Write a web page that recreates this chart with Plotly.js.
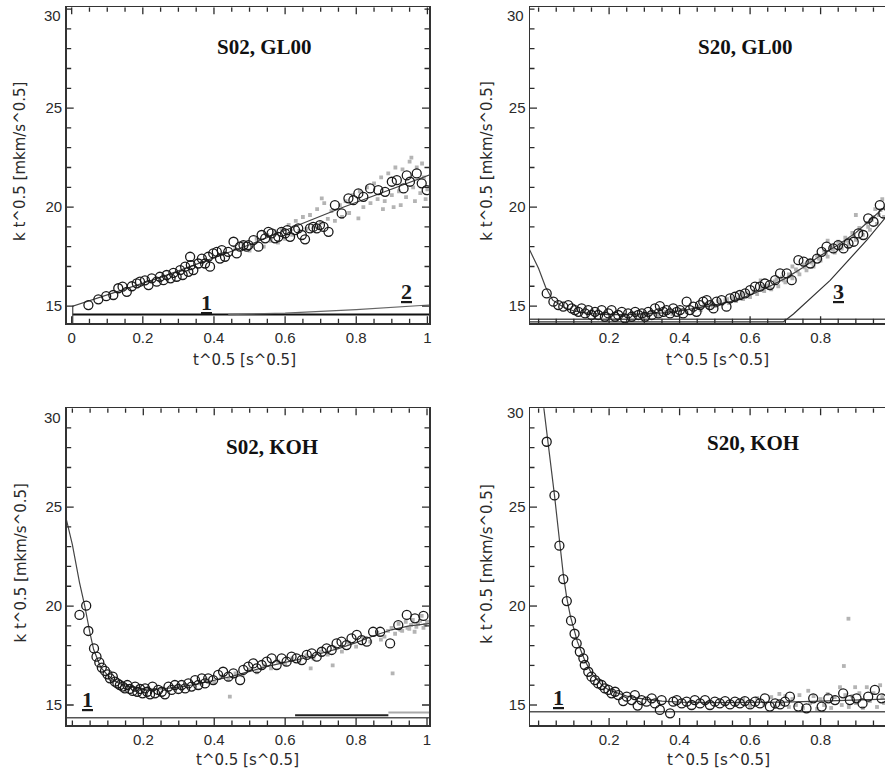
<!DOCTYPE html>
<html>
<head>
<meta charset="utf-8">
<script src="https://cdn.plot.ly/plotly-3.0.1.min.js"></script>
<style>html,body{margin:0;padding:0;background:#fff;}#chart{width:885px;height:775px;}</style>
</head>
<body>
<div id="chart"></div>
<script>
// ---------- DATA ----------
const panelTitles = ['S02, GL00', 'S20, GL00', 'S02, KOH', 'S20, KOH'];
const xTickPositions = [0,0.05,0.1,0.15,0.2,0.25,0.3,0.35,0.4,0.45,0.5,0.55,0.6,0.65,0.7,0.75,0.8,0.85,0.9,0.95,1];
const xTickText1 = ['0','','','','0.2','','','','0.4','','','','0.6','','','','0.8','','','','1'];
const xTickText2 = ['','','','','0.2','','','','0.4','','','','0.6','','','','0.8','','','',''];
const xTickText3 = ['','','','','0.2','','','','0.4','','','','0.6','','','','0.8','','','','1'];
const yTickPositions = [15,16,17,18,19,20,21,22,23,24,25,26,27,28,29,30];
const yTickText = ['15','','','','','20','','','','','25','','','','',''];
const xTitle = 't^0.5 [s^0.5]';
const yTitle = 'k t^0.5 [mkm/s^0.5]';

// Panel 1: S02, GL00
const s02gl00Circles = [[0.047,15.05],[0.075,15.34],[0.097,15.5],[0.117,15.56],[0.131,15.9],[0.143,15.98],[0.155,15.72],[0.169,16.0],[0.183,16.15],[0.192,16.23],[0.206,16.3],[0.216,16.06],[0.225,16.4],[0.239,16.23],[0.248,16.48],[0.258,16.31],[0.267,16.57],[0.278,16.4],[0.286,16.68],[0.295,16.48],[0.305,16.82],[0.312,16.57],[0.319,16.99],[0.328,16.73],[0.335,17.07],[0.342,16.82],[0.333,17.49],[0.356,17.15],[0.366,17.4],[0.375,17.15],[0.384,17.49],[0.389,16.99],[0.398,17.66],[0.408,17.74],[0.417,17.4],[0.422,17.83],[0.431,17.49],[0.44,17.74],[0.455,18.25],[0.464,17.66],[0.473,18.0],[0.483,18.08],[0.492,18.0],[0.497,18.08],[0.511,18.33],[0.525,18.0],[0.534,18.59],[0.544,18.42],[0.553,18.75],[0.562,18.67],[0.572,18.42],[0.581,18.5],[0.59,18.75],[0.6,18.67],[0.606,18.84],[0.614,18.5],[0.628,18.84],[0.637,18.92],[0.647,18.59],[0.656,18.37],[0.67,18.92],[0.679,19.0],[0.689,18.92],[0.698,19.09],[0.708,19.0],[0.722,18.75],[0.74,20.1],[0.759,19.68],[0.778,20.44],[0.792,20.35],[0.806,20.69],[0.82,20.52],[0.839,20.94],[0.862,20.86],[0.881,20.77],[0.9,21.28],[0.914,21.36],[0.933,20.94],[0.942,21.6],[0.951,21.28],[0.97,21.7],[0.984,21.2],[0.998,20.86]];
const s02gl00Dots = [[0.46,17.9],[0.48,18.2],[0.5,17.8],[0.52,18.4],[0.54,18.0],[0.55,18.6],[0.56,18.3],[0.57,18.8],[0.58,18.2],[0.59,18.9],[0.6,18.4],[0.61,19.1],[0.62,18.6],[0.63,19.3],[0.64,18.8],[0.65,19.5],[0.66,18.9],[0.67,19.6],[0.68,19.0],[0.69,19.9],[0.7,19.2],[0.703,20.44],[0.71,20.2],[0.72,19.4],[0.73,19.8],[0.74,19.3],[0.754,20.1],[0.76,19.5],[0.77,20.3],[0.78,19.7],[0.79,20.6],[0.806,19.43],[0.81,20.8],[0.82,20.0],[0.83,21.0],[0.84,20.2],[0.85,21.2],[0.86,20.4],[0.87,21.5],[0.875,19.9],[0.88,20.3],[0.89,21.7],[0.9,20.6],[0.905,20.0],[0.91,22.0],[0.92,20.8],[0.925,20.1],[0.93,21.9],[0.94,20.5],[0.95,22.3],[0.955,22.5],[0.96,21.0],[0.965,20.3],[0.97,22.0],[0.98,20.7],[0.985,22.2],[0.99,21.5],[0.995,20.4],[1.0,20.9]];
const s02gl00Fit = [[0.003,14.0],[0.003,15.0],[0.25,16.45],[0.5,18.1],[0.75,19.9],[1.01,21.65]];
const s02gl00Line1 = [[0.003,14.57],[1.01,14.57]];
const s02gl00Line2 = [[0.44,14.57],[0.6,14.64],[0.8,14.82],[1.01,15.06]];

// Panel 2: S20, GL00
const s20gl00Circles = [[0.023,15.64],[0.042,15.22],[0.056,15.05],[0.07,14.97],[0.084,15.05],[0.094,14.88],[0.103,14.8],[0.113,14.71],[0.122,14.88],[0.132,14.63],[0.141,14.8],[0.15,14.55],[0.16,14.71],[0.169,14.55],[0.179,14.8],[0.188,14.46],[0.198,14.63],[0.207,14.8],[0.217,14.46],[0.226,14.55],[0.236,14.71],[0.245,14.38],[0.254,14.63],[0.264,14.46],[0.274,14.71],[0.283,14.55],[0.293,14.63],[0.302,14.46],[0.311,14.71],[0.321,14.55],[0.33,14.88],[0.34,14.63],[0.344,15.0],[0.354,14.71],[0.363,14.8],[0.373,14.63],[0.382,14.88],[0.392,14.71],[0.401,14.8],[0.41,14.63],[0.42,15.22],[0.429,14.8],[0.439,14.97],[0.448,14.71],[0.458,15.05],[0.467,15.22],[0.477,15.3],[0.486,15.05],[0.496,14.88],[0.505,15.22],[0.519,15.3],[0.533,14.97],[0.543,15.39],[0.557,15.47],[0.571,15.56],[0.586,15.64],[0.6,15.81],[0.614,15.98],[0.628,15.98],[0.642,16.14],[0.656,16.06],[0.671,16.31],[0.685,16.65],[0.704,16.65],[0.718,16.31],[0.737,17.32],[0.752,17.24],[0.771,17.15],[0.79,17.4],[0.803,17.74],[0.817,18.0],[0.836,17.91],[0.85,18.08],[0.865,17.91],[0.879,18.16],[0.894,18.25],[0.907,18.67],[0.921,18.59],[0.935,19.43],[0.95,19.26],[0.968,20.1],[0.978,19.68]];
const s20gl00Dots = [[0.25,14.5],[0.27,14.65],[0.29,14.55],[0.30,14.5],[0.32,14.65],[0.34,14.55],[0.36,14.7],[0.38,14.6],[0.40,14.8],[0.42,14.7],[0.44,14.9],[0.455,14.95],[0.46,14.8],[0.47,15.05],[0.475,15.1],[0.48,14.95],[0.49,15.15],[0.495,15.0],[0.50,15.0],[0.51,15.25],[0.515,15.2],[0.52,15.1],[0.53,15.3],[0.535,15.35],[0.54,15.15],[0.55,15.4],[0.555,15.3],[0.56,15.25],[0.57,15.5],[0.575,15.6],[0.58,15.35],[0.59,15.65],[0.595,15.5],[0.60,15.45],[0.61,15.75],[0.615,15.7],[0.62,15.6],[0.63,15.9],[0.63,16.3],[0.635,16.0],[0.64,15.75],[0.65,16.05],[0.655,15.95],[0.66,15.85],[0.67,16.25],[0.675,16.35],[0.68,16.0],[0.69,16.45],[0.695,16.3],[0.70,16.2],[0.71,16.6],[0.715,16.5],[0.72,16.4],[0.72,17.0],[0.73,16.85],[0.735,16.75],[0.74,16.6],[0.75,17.1],[0.755,16.95],[0.76,16.8],[0.77,17.3],[0.775,17.2],[0.78,17.0],[0.79,17.55],[0.795,17.4],[0.80,17.3],[0.81,17.8],[0.815,17.65],[0.82,17.5],[0.82,18.3],[0.83,18.0],[0.835,17.85],[0.84,17.7],[0.85,18.25],[0.855,18.05],[0.86,17.9],[0.87,18.45],[0.875,18.3],[0.88,18.1],[0.89,18.7],[0.895,18.55],[0.90,18.35],[0.90,19.6],[0.91,18.95],[0.915,18.8],[0.92,18.6],[0.93,19.2],[0.935,19.0],[0.94,18.85],[0.945,19.35],[0.95,19.5],[0.955,19.9],[0.96,19.15],[0.965,19.6],[0.97,19.85],[0.975,20.4],[0.98,19.5],[0.985,19.9]];
const s20gl00Fit = [[-0.03,18.0],[0.0,16.9],[0.02,15.95],[0.04,15.3],[0.07,14.95],[0.1,14.75],[0.15,14.62],[0.2,14.57],[0.25,14.57],[0.3,14.6],[0.35,14.66],[0.4,14.76],[0.45,14.9],[0.5,15.05],[0.55,15.25],[0.6,15.55],[0.65,15.95],[0.7,16.4],[0.75,16.95],[0.8,17.55],[0.85,18.1],[0.9,18.7],[0.95,19.5],[0.99,20.15]];
const s20gl00Line1 = [[-0.03,14.33],[0.99,14.33]];
const s20gl00Line3 = [[-0.03,14.2],[0.694,14.2],[0.723,14.6],[0.827,16.3],[0.931,18.33],[0.99,19.6]];

// Panel 3: S02, KOH
const s02kohCircles = [[0.020,19.55],[0.039,20.02],[0.045,18.74],[0.061,17.86],[0.068,17.44],[0.076,17.15],[0.083,16.89],[0.092,16.72],[0.099,16.55],[0.106,16.35],[0.114,16.43],[0.12,16.18],[0.127,16.09],[0.134,16.01],[0.142,15.93],[0.148,15.84],[0.155,16.01],[0.162,15.81],[0.17,15.71],[0.177,15.93],[0.183,15.67],[0.191,15.81],[0.198,15.59],[0.205,15.84],[0.211,15.67],[0.219,15.54],[0.226,15.93],[0.233,15.59],[0.242,15.76],[0.252,15.67],[0.261,15.54],[0.271,15.93],[0.28,15.76],[0.289,16.01],[0.299,15.81],[0.308,16.01],[0.318,15.84],[0.327,16.09],[0.336,15.93],[0.346,16.26],[0.355,16.01],[0.365,16.35],[0.374,16.09],[0.383,16.35],[0.397,16.26],[0.411,16.52],[0.425,16.68],[0.44,16.43],[0.454,16.6],[0.473,16.26],[0.482,16.77],[0.496,16.94],[0.51,17.1],[0.52,16.85],[0.534,17.02],[0.548,17.19],[0.562,17.36],[0.576,17.02],[0.59,17.36],[0.604,17.19],[0.618,17.44],[0.632,17.36],[0.647,17.27],[0.661,17.53],[0.675,17.61],[0.689,17.44],[0.703,17.69],[0.717,17.86],[0.731,17.78],[0.745,18.11],[0.759,18.2],[0.773,18.03],[0.787,18.37],[0.802,18.54],[0.816,18.28],[0.83,18.2],[0.848,18.7],[0.868,18.7],[0.896,18.11],[0.919,19.04],[0.943,19.55],[0.966,19.38],[0.99,19.5]];
const s02kohDots = [[0.36,16.1],[0.38,16.3],[0.40,16.15],[0.42,16.45],[0.44,16.3],[0.444,15.42],[0.46,16.6],[0.48,16.5],[0.50,16.8],[0.52,16.65],[0.54,17.0],[0.56,16.85],[0.58,17.2],[0.60,17.05],[0.62,17.35],[0.64,17.2],[0.66,17.5],[0.672,16.85],[0.68,17.35],[0.70,17.7],[0.72,17.55],[0.734,17.0],[0.74,17.9],[0.76,17.7],[0.78,18.15],[0.80,17.95],[0.82,18.4],[0.84,18.2],[0.86,18.65],[0.87,18.3],[0.88,18.45],[0.89,18.75],[0.90,18.9],[0.903,16.6],[0.91,18.6],[0.92,19.1],[0.925,18.8],[0.93,18.75],[0.94,19.2],[0.945,18.9],[0.95,18.85],[0.955,19.05],[0.96,19.3],[0.965,18.7],[0.97,18.95],[0.975,19.1],[0.98,19.25],[0.985,19.5],[0.99,18.9],[0.995,19.05],[1.0,19.2]];
const s02kohFit = [[-0.02,24.6],[0.0,23.1],[0.02,21.2],[0.035,20.0],[0.05,18.6],[0.06,17.8],[0.08,16.9],[0.1,16.5],[0.12,16.2],[0.15,15.95],[0.2,15.8],[0.25,15.82],[0.3,15.9],[0.35,16.05],[0.4,16.25],[0.45,16.45],[0.5,16.7],[0.55,16.95],[0.6,17.15],[0.65,17.35],[0.7,17.6],[0.75,17.85],[0.8,18.15],[0.85,18.5],[0.9,18.8],[0.95,19.0],[1.01,19.12]];
const s02kohLine1 = [[-0.02,14.35],[1.01,14.35]];
const s02kohSegDark = [[0.628,14.48],[0.891,14.48]];
const s02kohSegLight = [[0.891,14.62],[1.01,14.62]];

// Panel 4: S20, KOH
const s20kohCircles = [[0.023,28.3],[0.045,25.59],[0.059,23.05],[0.07,21.36],[0.08,20.25],[0.092,19.26],[0.102,18.6],[0.108,18.11],[0.117,17.69],[0.127,17.36],[0.131,17.02],[0.141,16.68],[0.15,16.43],[0.16,16.26],[0.169,16.09],[0.179,16.01],[0.188,15.84],[0.198,15.76],[0.207,15.59],[0.217,15.67],[0.226,15.5],[0.24,15.2],[0.25,15.42],[0.264,15.25],[0.273,15.5],[0.281,14.97],[0.292,15.25],[0.306,15.17],[0.321,15.34],[0.33,15.08],[0.344,14.75],[0.349,15.25],[0.373,14.58],[0.382,15.17],[0.392,15.25],[0.406,15.08],[0.42,15.17],[0.434,15.0],[0.443,15.25],[0.458,15.08],[0.472,15.25],[0.486,15.0],[0.5,15.17],[0.514,15.08],[0.529,15.2],[0.543,15.03],[0.557,15.17],[0.571,15.08],[0.585,15.2],[0.6,15.03],[0.614,15.17],[0.628,15.08],[0.642,15.34],[0.656,14.92],[0.671,15.08],[0.685,15.03],[0.699,15.17],[0.713,15.42],[0.737,14.92],[0.76,14.83],[0.779,15.34],[0.803,14.92],[0.822,15.34],[0.841,15.25],[0.864,15.59],[0.883,15.25],[0.902,15.34],[0.919,15.08],[0.935,15.42],[0.954,15.76],[0.973,15.34]];
const s20kohDots = [[0.56,15.0],[0.58,15.3],[0.60,14.95],[0.62,15.35],[0.64,15.0],[0.66,15.4],[0.67,14.9],[0.683,15.56],[0.69,15.05],[0.70,15.45],[0.71,14.9],[0.72,15.3],[0.73,15.0],[0.74,15.5],[0.75,14.85],[0.765,15.72],[0.77,15.1],[0.78,15.45],[0.79,14.8],[0.80,15.3],[0.81,15.0],[0.82,15.55],[0.83,14.85],[0.84,15.4],[0.855,15.9],[0.86,15.0],[0.866,16.97],[0.87,15.5],[0.879,19.36],[0.88,14.9],[0.89,15.45],[0.898,15.9],[0.90,15.1],[0.91,15.6],[0.92,14.85],[0.931,15.9],[0.94,15.2],[0.95,15.6],[0.96,14.9],[0.969,16.0],[0.975,15.4],[0.98,15.1]];
const s20kohFit = [[0.008,31.0],[0.015,30.0],[0.023,28.6],[0.045,25.6],[0.06,23.2],[0.07,21.6],[0.08,20.4],[0.09,19.5],[0.1,18.85],[0.11,18.2],[0.13,17.3],[0.15,16.6],[0.18,16.0],[0.2,15.75],[0.25,15.45],[0.3,15.3],[0.35,15.2],[0.4,15.15],[0.5,15.12],[0.6,15.12],[0.7,15.15],[0.8,15.2],[0.9,15.25],[0.99,15.3]];
const s20kohLine1 = [[-0.03,14.66],[0.99,14.66]];

// Curve number labels [x, y, text]
const curveLabels1 = [[0.38,15.18,'1'],[0.942,15.75,'2']];
const curveLabels2 = [[0.852,15.75,'3']];
const curveLabels3 = [[0.043,15.26,'1']];
const curveLabels4 = [[0.057,15.36,'1']];

// ---------- BUILD ----------
const SANS = 'Liberation Sans, Arial, sans-serif';
const SERIF = 'Liberation Serif, Times New Roman, serif';
const col = (a, i) => a.map(p => p[i]);

function dots(arr, n) {
  return {type:'scatter', mode:'markers', x:col(arr,0), y:col(arr,1), xaxis:'x'+n, yaxis:'y'+n,
    marker:{symbol:'square', size:3.8, color:'#b4b4b4'}};
}
function circles(arr, n) {
  return {type:'scatter', mode:'markers', x:col(arr,0), y:col(arr,1), xaxis:'x'+n, yaxis:'y'+n,
    marker:{symbol:'circle-open', size:9, color:'#1a1a1a', line:{width:1.3, color:'#1a1a1a'}}};
}
function line(arr, n, color, width) {
  return {type:'scatter', mode:'lines', x:col(arr,0), y:col(arr,1), xaxis:'x'+n, yaxis:'y'+n,
    line:{color:color, width:width}};
}
const N = ['', '2', '3', '4'];
const data = [
  dots(s02gl00Dots, N[0]), line(s02gl00Line1, N[0], '#111', 2), line(s02gl00Line2, N[0], '#666', 1.2),
  line(s02gl00Fit, N[0], '#444', 1.2), circles(s02gl00Circles, N[0]),
  dots(s20gl00Dots, N[1]), line(s20gl00Line1, N[1], '#555', 1.5), line(s20gl00Line3, N[1], '#333', 1.2),
  line(s20gl00Fit, N[1], '#444', 1.2), circles(s20gl00Circles, N[1]),
  dots(s02kohDots, N[2]), line(s02kohLine1, N[2], '#555', 1.5), line(s02kohSegDark, N[2], '#222', 2),
  line(s02kohSegLight, N[2], '#aaa', 2), line(s02kohFit, N[2], '#444', 1.2), circles(s02kohCircles, N[2]),
  dots(s20kohDots, N[3]), line(s20kohLine1, N[3], '#555', 1.3),
  line(s20kohFit, N[3], '#444', 1.2), circles(s20kohCircles, N[3])
];

const W = 885, H = 775;
const dxL = [66.7/W, 429/W], dxR = [530/W, 1];
const dyT = [(H-323.3)/H, (H-7.3)/H], dyB = [(H-725)/H, (H-408.3)/H];
const tickFont = {family:SANS, size:15, color:'#2a2a2a'};
const rT = [14.13, 30.09], rB = [13.99, 29.99];
const rxL1 = [-0.014, 1.0045], rxL3 = [-0.016, 1.0056], rxR = [-0.0244, 0.9827];

// inside tick marks, placed at the axis tick positions in each panel's own scale
const panels = [
  {n:'', dx:dxL, dy:dyT, xr:rxL1, yr:rT, labX:xTickText1, right:true},
  {n:'2', dx:dxR, dy:dyT, xr:rxR, yr:rT, labX:xTickText2, right:false},
  {n:'3', dx:dxL, dy:dyB, xr:rxL3, yr:rB, labX:xTickText3, right:true},
  {n:'4', dx:dxR, dy:dyB, xr:rxR, yr:rB, labX:xTickText2, right:false}
];
panels.forEach(p => {
  const wPx = (p.dx[1]-p.dx[0])*W, hPx = (p.dy[1]-p.dy[0])*H;
  const yPerPx = (p.yr[1]-p.yr[0])/hPx, xPerPx = (p.xr[1]-p.xr[0])/wPx;
  const tx = [], ty = [];
  xTickPositions.forEach((v, i) => {
    if (v <= p.xr[0] || v >= p.xr[1]) return;
    const len = (p.labX[i] !== '' ? 7 : 4.5) * yPerPx;
    tx.push(v, v, null, v, v, null);
    ty.push(p.yr[0], p.yr[0]+len, null, p.yr[1], p.yr[1]-len, null);
  });
  yTickPositions.forEach((v, i) => {
    if (v <= p.yr[0] || v >= p.yr[1]) return;
    const len = (yTickText[i] !== '' ? 7 : 4.5) * xPerPx;
    tx.push(p.xr[0], p.xr[0]+len, null);
    ty.push(v, v, null);
    if (p.right) { tx.push(p.xr[1], p.xr[1]-len, null); ty.push(v, v, null); }
  });
  data.push({type:'scatter', mode:'lines', x:tx, y:ty, xaxis:'x'+p.n, yaxis:'y'+p.n,
    line:{color:'#2a2a2a', width:1.3}, connectgaps:false, cliponaxis:false, hoverinfo:'skip'});
});

function xax(domain, range, text, anchor) {
  return {domain:domain, range:range, anchor:anchor, tickmode:'array', tickvals:xTickPositions, ticktext:text,
    showline:true, linecolor:'#333', linewidth:1.5, mirror:true, ticks:'', tickfont:Object.assign({}, tickFont),
    showgrid:false, zeroline:false};
}
function yax(domain, range, anchor, mirror) {
  return {domain:domain, range:range, anchor:anchor, tickmode:'array', tickvals:yTickPositions, ticktext:yTickText,
    showline:true, linecolor:'#333', linewidth:1.5, mirror:mirror, ticks:'', tickfont:Object.assign({}, tickFont),
    showgrid:false, zeroline:false};
}

const annotations = [];
const titlePos = [[0.543,28.08,''],[0.588,28.08,'2'],[0.563,28.03,'3'],[0.608,28.23,'4']];
titlePos.forEach((p, i) => annotations.push({text:'<b>'+panelTitles[i]+'</b>', x:p[0], y:p[1], xref:'x'+p[2], yref:'y'+p[2],
  showarrow:false, xanchor:'center', yanchor:'middle', font:{family:SERIF, size:21, color:'#111'}}));
[[curveLabels1,''],[curveLabels2,'2'],[curveLabels3,'3'],[curveLabels4,'4']].forEach(([arr, n]) => arr.forEach(l =>
  annotations.push({text:'<b><u>'+l[2]+'</u></b>', x:l[0], y:l[1], xref:'x'+n, yref:'y'+n, showarrow:false,
    xanchor:'center', yanchor:'middle', font:{family:SERIF, size:22, color:'#1a1a1a'}})));
const yTitlePos = [[20/W,(H-162)/H],[486.7/W,(H-161)/H],[20/W,(H-563.5)/H],[486.7/W,(H-564)/H]];
yTitlePos.forEach(p => annotations.push({text:yTitle, x:p[0], y:p[1], xref:'paper', yref:'paper', textangle:-90,
  showarrow:false, xanchor:'center', yanchor:'middle', font:{family:'DejaVu Sans, sans-serif', size:15, color:'#2a2a2a'}}));
const xTitlePos = [[244/W,(H-360)/H],[717.7/W,(H-360)/H],[247/W,(H-760)/H],[718.5/W,(H-760)/H]];
xTitlePos.forEach(p => annotations.push({text:xTitle, x:p[0], y:p[1], xref:'paper', yref:'paper',
  showarrow:false, xanchor:'center', yanchor:'middle', font:{family:'DejaVu Sans, sans-serif', size:15, color:'#2a2a2a'}}));
const top30Pos = [[63/W,(H-15.5)/H],[526/W,(H-16)/H],[63/W,(H-417)/H],[526/W,(H-412.5)/H]];
top30Pos.forEach(p => annotations.push({text:'30', x:p[0], y:p[1], xref:'paper', yref:'paper',
  showarrow:false, xanchor:'right', yanchor:'middle', font:Object.assign({}, tickFont)}));

const layout = {
  width:W, height:H, margin:{l:0, r:0, t:0, b:0}, showlegend:false,
  xaxis: xax(dxL, rxL1, xTickText1, 'y'),
  yaxis: yax(dyT, rT, 'x', true),
  xaxis2: xax(dxR, rxR, xTickText2, 'y2'),
  yaxis2: yax(dyT, rT, 'x2', false),
  xaxis3: xax(dxL, rxL3, xTickText3, 'y3'),
  yaxis3: yax(dyB, rB, 'x3', true),
  xaxis4: xax(dxR, rxR, xTickText2, 'y4'),
  yaxis4: yax(dyB, rB, 'x4', false),
  annotations: annotations
};

Plotly.newPlot('chart', data, layout, {displayModeBar:false, staticPlot:true});
</script>
</body>
</html>
